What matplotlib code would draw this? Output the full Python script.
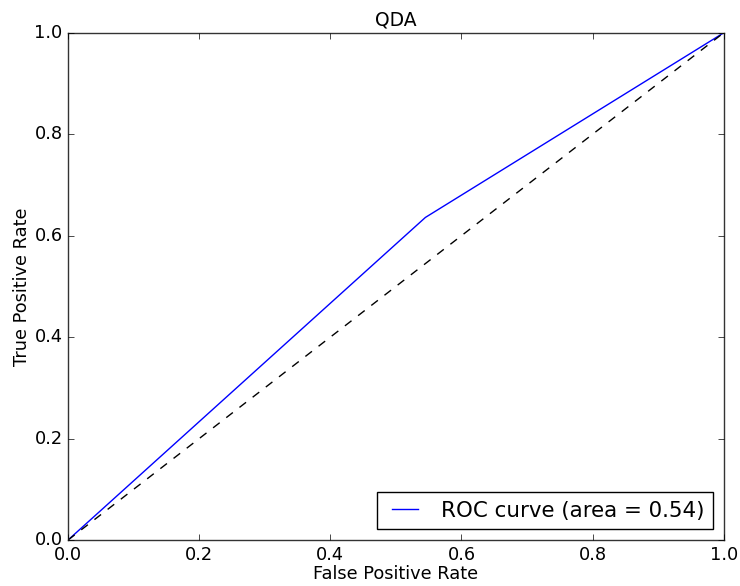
import matplotlib
matplotlib.use("Agg")
import matplotlib.pyplot as plt

# ROC points for QDA
fpr = [0.0, 0.545, 1.0]
tpr = [0.0, 0.636, 1.0]
roc_auc = 0.54

plt.style.use("classic")
plt.rcParams["font.size"] = 12.8
fig = plt.figure(figsize=(7.4, 5.86), dpi=100)
ax = fig.add_axes([0.092, 0.0785, 0.886, 0.8655])

ax.plot(fpr, tpr, color="blue", label="ROC curve (area = %0.2f)" % roc_auc)
ax.plot([0, 1], [0, 1], "k--")
ax.set_xlim([0.0, 1.0])
ax.set_ylim([0.0, 1.0])
ax.set_xlabel("False Positive Rate", labelpad=1)
ax.set_ylabel("True Positive Rate", labelpad=2)
ax.set_title("QDA", fontsize=13.5)
ax.legend(loc="lower right", handlelength=1.8)

for sp in ax.spines.values():
    sp.set_color("#333333")

fig.savefig("out.png", dpi=100)
